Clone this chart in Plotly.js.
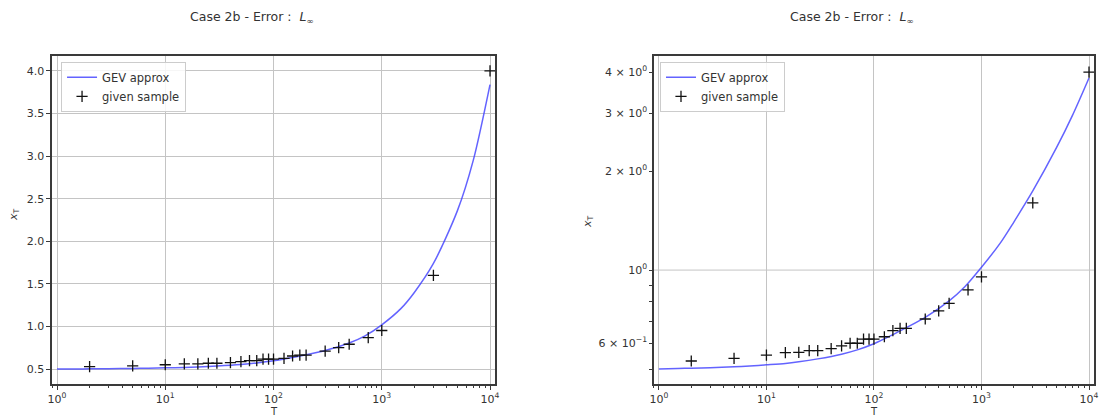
<!DOCTYPE html>
<html>
<head>
<meta charset="utf-8">
<script src="https://cdn.plot.ly/plotly-3.0.1.min.js"></script>
<style>
  html, body { margin: 0; padding: 0; background: #fff; }
  #chart { width: 1100px; height: 418px; }
</style>
</head>
<body>
<div id="chart"></div>
<script>
// ---- Data ----
const sampleT = [2, 5, 10, 15, 20, 25, 30, 40, 50, 60, 70, 80, 90, 100, 125, 150, 175, 200, 300, 400, 500, 750, 1000, 3000, 10000];
const sampleX = [0.529, 0.539, 0.551, 0.561, 0.562, 0.569, 0.569, 0.577, 0.588, 0.599, 0.599, 0.617, 0.617, 0.617, 0.627, 0.654, 0.665, 0.665, 0.710, 0.751, 0.792, 0.870, 0.953, 1.60, 4.00];

const curveT = [1, 1.5, 2, 3, 5, 7, 10, 15, 20, 30, 50, 70, 100, 150, 200, 300, 500, 700, 1000, 1500, 2000, 3000, 5000, 7000, 10000];
const curveX = [0.500, 0.502, 0.503, 0.505, 0.508, 0.511, 0.515, 0.520, 0.526, 0.537, 0.555, 0.572, 0.597, 0.636, 0.668, 0.718, 0.806, 0.890, 1.020, 1.210, 1.400, 1.740, 2.360, 2.950, 3.840];

const xTickVals = [1, 10, 100, 1000, 10000];
const xTickText = ['10<sup>0</sup>', '10<sup>1</sup>', '10<sup>2</sup>', '10<sup>3</sup>', '10<sup>4</sup>'];
const yLinTickVals = [0.5, 1.0, 1.5, 2.0, 2.5, 3.0, 3.5, 4.0];
const yLogTickVals = [0.5, 0.6, 0.7, 0.8, 0.9, 1, 2, 3, 4];
const yLogTickText = ['', '6 × 10<sup>−1</sup>', '', '', '', '10<sup>0</sup>', '2 × 10<sup>0</sup>', '3 × 10<sup>0</sup>', '4 × 10<sup>0</sup>'];

const titleText = 'Case 2b - Error :  <i>L</i><sub>∞</sub>';
const curveName = 'GEV approx';
const sampleName = 'given sample';

// ---- Styles ----
const FONT = 'DejaVu Sans, sans-serif';
const txt = '#333333';
const spine = '#3a3a3a';
const gridC = '#c4c4c4';
const lineColor = 'rgba(60,60,255,0.8)';

function curveTrace(xa, ya, lg) {
  return {
    x: curveT, y: curveX, xaxis: xa, yaxis: ya, type: 'scatter', mode: 'lines',
    name: curveName, legend: lg, showlegend: true,
    line: { color: lineColor, width: 1.5, shape: 'spline', smoothing: 0.8 }
  };
}
function sampleTrace(xa, ya, lg) {
  return {
    x: sampleT, y: sampleX, xaxis: xa, yaxis: ya, type: 'scatter', mode: 'markers',
    name: sampleName, legend: lg, showlegend: true,
    marker: { symbol: 'cross-thin', size: 8, color: '#111', line: { color: '#111', width: 1.3 } }
  };
}

const data = [
  curveTrace('x', 'y', 'legend'),
  sampleTrace('x', 'y', 'legend'),
  curveTrace('x2', 'y2', 'legend2'),
  sampleTrace('x2', 'y2', 'legend2')
];

const tickFont = { family: FONT, size: 11, color: txt };

const xCommon = {
  type: 'log', range: [-0.046, 4.046],
  tickmode: 'array', tickvals: xTickVals, ticktext: xTickText,
  showgrid: true, gridcolor: gridC, gridwidth: 1,
  showline: true, linecolor: spine, linewidth: 1.6, mirror: true,
  ticks: 'outside', ticklen: 4, tickcolor: spine, tickwidth: 1,
  minor: { ticks: 'outside', ticklen: 2, tickcolor: spine, dtick: 'D1', showgrid: false },
  tickfont: tickFont, zeroline: false
};

const legendCommon = {
  xanchor: 'left', yanchor: 'top',
  bgcolor: 'rgba(255,255,255,0.85)', bordercolor: '#cccccc', borderwidth: 1,
  font: { family: FONT, size: 11.5, color: txt }, tracegroupgap: 0, itemwidth: 30
};

const layout = {
  width: 1100, height: 418,
  margin: { l: 0, r: 0, t: 0, b: 0 },
  paper_bgcolor: '#ffffff', plot_bgcolor: '#ffffff',
  font: { family: FONT, size: 11, color: txt },
  xaxis: Object.assign({}, xCommon, { domain: [0.0473, 0.45], anchor: 'y' }),
  xaxis2: Object.assign({}, xCommon, { domain: [0.5945, 0.9945], anchor: 'y2' }),
  yaxis: {
    domain: [0.0813, 0.866], anchor: 'x',
    range: [0.325, 4.175], tickmode: 'array', tickvals: yLinTickVals, tickformat: '.1f',
    showgrid: true, gridcolor: gridC, gridwidth: 1,
    showline: true, linecolor: spine, linewidth: 1.6, mirror: true,
    ticks: 'outside', ticklen: 4, tickcolor: spine,
    tickfont: tickFont, zeroline: false
  },
  yaxis2: {
    domain: [0.0813, 0.866], anchor: 'x2', type: 'log',
    range: [-0.3465, 0.651], tickmode: 'array', tickvals: yLogTickVals, ticktext: yLogTickText,
    showgrid: false,
    showline: true, linecolor: spine, linewidth: 1.6, mirror: true,
    ticks: 'outside', ticklen: 3, tickcolor: spine,
    tickfont: tickFont, zeroline: false
  },
  shapes: [
    { type: 'line', xref: 'x2 domain', yref: 'y2', x0: 0, x1: 1, y0: 1, y1: 1,
      line: { color: gridC, width: 1 }, layer: 'below' }
  ],
  legend: Object.assign({}, legendCommon, { x: 0.0555, y: 0.852 }),
  legend2: Object.assign({}, legendCommon, { x: 0.6, y: 0.852 }),
  annotations: [
    { text: titleText, xref: 'paper', yref: 'paper', x: 252 / 1100, y: 0.957,
      xanchor: 'center', yanchor: 'middle', showarrow: false, font: { family: FONT, size: 12.5, color: txt } },
    { text: titleText, xref: 'paper', yref: 'paper', x: 852 / 1100, y: 0.957,
      xanchor: 'center', yanchor: 'middle', showarrow: false, font: { family: FONT, size: 12.5, color: txt } },
    { text: '<i>x</i><sub>T</sub>', xref: 'paper', yref: 'paper', x: 14 / 1100, y: (418 - 215) / 418,
      xanchor: 'center', yanchor: 'middle', textangle: -90, showarrow: false, font: { family: FONT, size: 11, color: txt } },
    { text: '<i>x</i><sub>T</sub>', xref: 'paper', yref: 'paper', x: 588 / 1100, y: (418 - 222) / 418,
      xanchor: 'center', yanchor: 'middle', textangle: -90, showarrow: false, font: { family: FONT, size: 11, color: txt } },
    { text: 'T', xref: 'paper', yref: 'paper', x: (0.0473 + 0.45) / 2, y: 0,
      xanchor: 'center', yanchor: 'bottom', showarrow: false, borderpad: 0, font: { family: FONT, size: 10, color: txt } },
    { text: 'T', xref: 'paper', yref: 'paper', x: (0.5945 + 0.9945) / 2, y: 0,
      xanchor: 'center', yanchor: 'bottom', showarrow: false, borderpad: 0, font: { family: FONT, size: 10, color: txt } }
  ]
};

Plotly.newPlot('chart', data, layout, { displayModeBar: false, staticPlot: true });
</script>
</body>
</html>
